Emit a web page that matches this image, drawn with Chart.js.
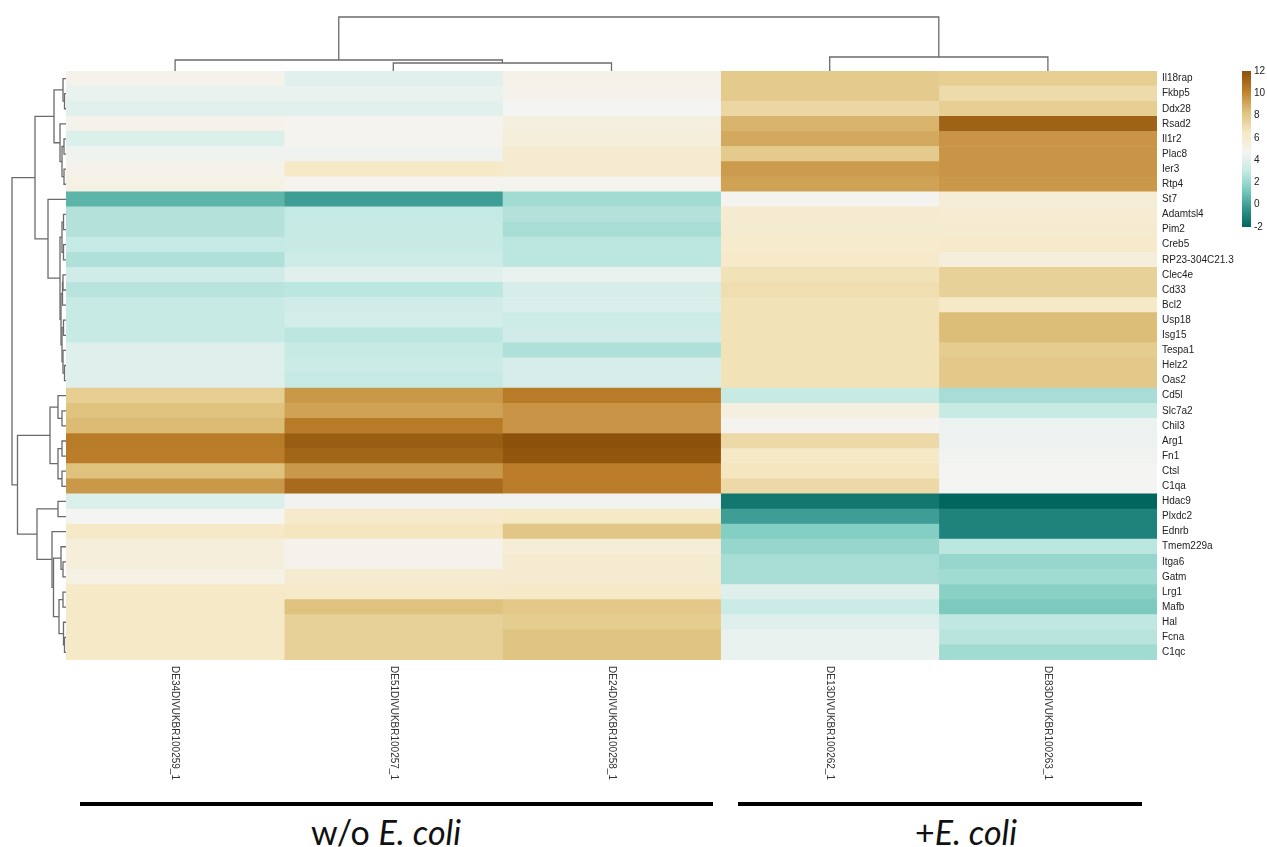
<!DOCTYPE html>
<html>
<head>
<meta charset="utf-8">
<script src="https://cdn.jsdelivr.net/npm/chart.js@4.4.1/dist/chart.umd.min.js"></script>
<style>
  body { margin: 0; background: #fff; }
  #page { position: relative; width: 1267px; height: 847px; overflow: hidden; background: #fff; }
  canvas { position: absolute; }
  .bar { position: absolute; height: 4px; background: #000; top: 802px; }
  .grp { position: absolute; top: 815px; font-family: Lato, sans-serif; font-size: 34px; line-height: 1; color: #111; transform: translateX(-50%); white-space: nowrap; }
</style>
</head>
<body>
<div id="page">
  <canvas id="topTree" width="1091" height="57" style="left:66px; top:14px;"></canvas>
  <canvas id="leftTree" width="66" height="589" style="left:0; top:71px;"></canvas>
  <canvas id="heat" width="1174" height="720" style="left:66px; top:71px;"></canvas>
  <canvas id="legendBar" width="31" height="166" style="left:1236px; top:66px;"></canvas>
  <div class="bar" style="left:80px; width:633px;"></div>
  <div class="bar" style="left:738px; width:404px;"></div>
  <div class="grp" style="left:386px;">w/o <i>E. coli</i></div>
  <div class="grp" style="left:966px;">+<i>E. coli</i></div>
</div>
<script>
// genes (rows) and samples (columns)
const genes = ['Il18rap', 'Fkbp5', 'Ddx28', 'Rsad2', 'Il1r2', 'Plac8', 'Ier3', 'Rtp4', 'St7', 'Adamtsl4',
  'Pim2', 'Creb5', 'RP23-304C21.3', 'Clec4e', 'Cd33', 'Bcl2', 'Usp18', 'Isg15', 'Tespa1', 'Helz2',
  'Oas2', 'Cd5l', 'Slc7a2', 'Chil3', 'Arg1', 'Fn1', 'Ctsl', 'C1qa', 'Hdac9', 'Plxdc2',
  'Ednrb', 'Tmem229a', 'Itga6', 'Gatm', 'Lrg1', 'Mafb', 'Hal', 'Fcna', 'C1qc'];
const samples = ['DE34DIVUKBR100259_1', 'DE51DIVUKBR100257_1', 'DE24DIVUKBR100258_1', 'DE13DIVUKBR100262_1', 'DE83DIVUKBR100263_1'];

// expression values, one array per sample (same order as genes)
const s259 = [5.0, 4.3, 4.0, 5.0, 3.8, 4.5, 5.0, 5.2, 0.6, 2.6, 2.6, 3.0, 2.5, 3.4, 2.7, 3.1, 3.1, 3.1, 3.9, 3.9, 3.9,
  7.7, 8.3, 8.5, 10.4, 10.3, 8.3, 9.5, 3.8, 4.7, 6.3, 5.6, 5.6, 5.2, 6.3, 6.3, 6.3, 6.3, 6.3];
const s257 = [4.0, 4.3, 4.0, 4.9, 4.9, 4.5, 6.3, 4.9, -0.1, 3.0, 3.1, 3.1, 3.3, 4.0, 2.8, 3.4, 3.5, 2.8, 3.1, 3.2, 3.0,
  9.5, 9.2, 10.4, 11.5, 11.2, 9.5, 11.0, 4.6, 6.2, 6.6, 5.0, 5.0, 6.0, 6.2, 8.3, 7.6, 7.6, 7.6];
const s258 = [5.1, 5.0, 4.7, 5.4, 5.6, 6.0, 6.0, 4.9, 2.2, 2.6, 2.3, 2.8, 2.8, 4.3, 3.6, 3.7, 3.3, 3.4, 2.5, 3.6, 3.6,
  10.4, 9.6, 9.6, 12.0, 11.8, 10.3, 10.3, 4.6, 6.4, 8.1, 5.8, 6.0, 6.0, 6.3, 8.0, 7.8, 8.2, 8.2];
const s262 = [7.9, 7.9, 7.3, 8.7, 9.0, 7.9, 9.4, 9.2, 4.8, 6.0, 6.0, 6.1, 6.2, 6.8, 7.0, 6.8, 6.8, 6.8, 6.8, 6.8, 6.8,
  3.1, 5.4, 4.8, 7.2, 6.4, 6.6, 7.2, -1.4, -0.1, 1.5, 1.9, 2.3, 2.3, 3.9, 3.2, 3.9, 4.3, 4.3];
const s263 = [7.7, 7.1, 7.7, 11.3, 9.6, 9.6, 9.6, 9.5, 5.8, 5.9, 6.0, 6.2, 5.6, 7.6, 7.6, 6.3, 8.4, 8.4, 7.8, 8.0, 8.0,
  2.3, 3.1, 4.4, 4.4, 4.6, 4.7, 4.7, -2.0, -1.0, -1.0, 2.8, 1.9, 2.2, 1.6, 1.3, 2.9, 2.7, 2.2];
const columns = [s259, s257, s258, s262, s263];

// dendrograms, hclust style: negative = leaf (1-based), positive = earlier merge, then height
const colMerges = [[-2, -3, 8], [-1, 1, 11], [-4, -5, 14], [2, 3, 54]];
const rowMerges = [
  [-2, -3, 1.5], [-1, 1, 3], [-5, -6, 2], [-7, -8, 2], [3, 4, 4], [-4, 5, 6], [2, 6, 12],
  [-10, -11, 2.5], [-12, -13, 2.5], [8, 9, 4], [-14, -15, 3], [11, -16, 3.5], [-17, -18, 2.5],
  [-20, -21, 1.5], [-19, 14, 3], [13, 15, 4], [12, 16, 5], [10, 17, 6], [-9, 18, 18], [7, 19, 31],
  [-23, -24, 4], [-22, 21, 8], [-25, -26, 4], [-27, -28, 4], [23, 24, 8], [22, 25, 16],
  [-29, -30, 8], [-33, -34, 3], [-32, 28, 5], [-35, -36, 3], [-38, -39, 1.5], [-37, 31, 2.5],
  [30, 32, 7], [29, 33, 12.5], [-31, 34, 14], [27, 35, 29], [26, 36, 48.5], [20, 37, 54]
];

// colour scale range and stops (brown-white-teal)
const scaleMin = -2, scaleMax = 12;
const colorStops = [
  [-2, '#01665e'], [-0.3, '#35978f'], [1.4, '#80cdc1'], [3.05, '#c7eae5'], [4.7, '#f4f4f2'],
  [6.5, '#f6e8c3'], [8.3, '#dfc27d'], [10.15, '#bf812d'], [12, '#8c510a']
];

const lineColor = '#6b6b6b';
const labelFont = { family: '"Liberation Sans", Arial, sans-serif', size: 10 };

function hexRgb(h) {
  return [1, 3, 5].map(i => parseInt(h.substr(i, 2), 16));
}

function colorFor(v) {
  for (let i = 1; i < colorStops.length; i++) {
    const [v0, c0] = colorStops[i - 1];
    const [v1, c1] = colorStops[i];
    if (v <= v1 || i === colorStops.length - 1) {
      const t = Math.max(0, Math.min(1, (v - v0) / (v1 - v0)));
      const a = hexRgb(c0), b = hexRgb(c1);
      const rgb = a.map((x, k) => Math.round(x + (b[k] - x) * t));
      return `rgb(${rgb.join(',')})`;
    }
  }
}

// turn merges into one 4-point polyline per merge
function dendroLines(merges, horizontal) {
  const nodes = [];
  const at = id => id < 0 ? { p: -id - 0.5, h: 0 } : nodes[id - 1];
  return merges.map(([a, b, h]) => {
    const A = at(a), B = at(b);
    nodes.push({ p: (A.p + B.p) / 2, h: h });
    const pts = [[A.p, A.h], [A.p, h], [B.p, h], [B.p, B.h]];
    return {
      data: pts.map(([p, v]) => horizontal ? { x: v, y: p } : { x: p, y: v }),
      showLine: true,
      borderColor: lineColor,
      borderWidth: 1.3,
      pointRadius: 0,
      tension: 0,
      clip: false
    };
  });
}

// drop the half-label padding Chart.js adds to vertical axes
function noEdgePadding(s, width) {
  s.width = width;
  s.paddingTop = 0;
  s.paddingBottom = 0;
}

const common = {
  responsive: false,
  animation: false,
  events: [],
  plugins: { legend: { display: false }, tooltip: { enabled: false } }
};

// column dendrogram
new Chart(document.getElementById('topTree'), {
  type: 'scatter',
  data: { datasets: dendroLines(colMerges, false) },
  options: {
    ...common,
    layout: { padding: { top: 3 } },
    scales: {
      x: { type: 'linear', min: 0, max: samples.length, display: false },
      y: { type: 'linear', min: 0, max: 54, display: false }
    }
  }
});

// row dendrogram
new Chart(document.getElementById('leftTree'), {
  type: 'scatter',
  data: { datasets: dendroLines(rowMerges, true) },
  options: {
    ...common,
    layout: { padding: { left: 10 } },
    scales: {
      x: { type: 'linear', min: 0, max: 56, reverse: true, display: false },
      y: { type: 'linear', min: 0, max: genes.length, reverse: true, display: false }
    }
  }
});

// sample names under the heatmap, reading downward
const sampleLabels = {
  id: 'sampleLabels',
  afterDraw(chart) {
    const { ctx, chartArea, scales } = chart;
    ctx.save();
    ctx.font = `${labelFont.size}px ${labelFont.family}`;
    ctx.fillStyle = '#333';
    ctx.textBaseline = 'middle';
    ctx.textAlign = 'left';
    samples.forEach((s, j) => {
      ctx.save();
      ctx.translate(scales.x.getPixelForValue(j + 0.5), chartArea.bottom + 6);
      ctx.rotate(Math.PI / 2);
      ctx.fillText(s, 0, 0);
      ctx.restore();
    });
    ctx.restore();
  }
};

// heatmap: one floating-bar dataset per sample column
new Chart(document.getElementById('heat'), {
  type: 'bar',
  data: {
    labels: genes,
    datasets: columns.map((vals, j) => ({
      label: samples[j],
      data: genes.map(() => [j, j + 1]),
      backgroundColor: vals.map(colorFor),
      borderWidth: 0,
      grouped: false,
      barPercentage: 1,
      categoryPercentage: 1
    }))
  },
  options: {
    ...common,
    indexAxis: 'y',
    layout: { padding: { bottom: 131 } },
    scales: {
      x: { type: 'linear', min: 0, max: samples.length, display: false },
      y: {
        position: 'right',
        grid: { display: false, drawTicks: false },
        border: { display: false },
        ticks: { font: labelFont, color: '#222', padding: 5, autoSkip: false },
        afterFit: s => noEdgePadding(s, 83)
      }
    }
  },
  plugins: [sampleLabels]
});

// colour key
new Chart(document.getElementById('legendBar'), {
  type: 'bar',
  data: {
    labels: ['key'],
    datasets: [{
      data: [[scaleMin, scaleMax]],
      borderWidth: 0,
      barPercentage: 1,
      categoryPercentage: 1,
      backgroundColor(c) {
        const chart = c.chart;
        if (!chart.chartArea) return null;
        const y = chart.scales.y;
        const g = chart.ctx.createLinearGradient(0, y.getPixelForValue(scaleMin), 0, y.getPixelForValue(scaleMax));
        colorStops.forEach(([v, col]) => g.addColorStop((v - scaleMin) / (scaleMax - scaleMin), col));
        return g;
      }
    }]
  },
  options: {
    ...common,
    layout: { padding: { left: 6, top: 5, bottom: 5 } },
    scales: {
      x: { display: false },
      y: {
        position: 'right',
        min: scaleMin,
        max: scaleMax,
        grid: { display: false, drawTicks: false },
        border: { display: false },
        ticks: { stepSize: 2, font: labelFont, color: '#222', padding: 3 },
        afterFit: s => noEdgePadding(s, 16)
      }
    }
  }
});
</script>
</body>
</html>
